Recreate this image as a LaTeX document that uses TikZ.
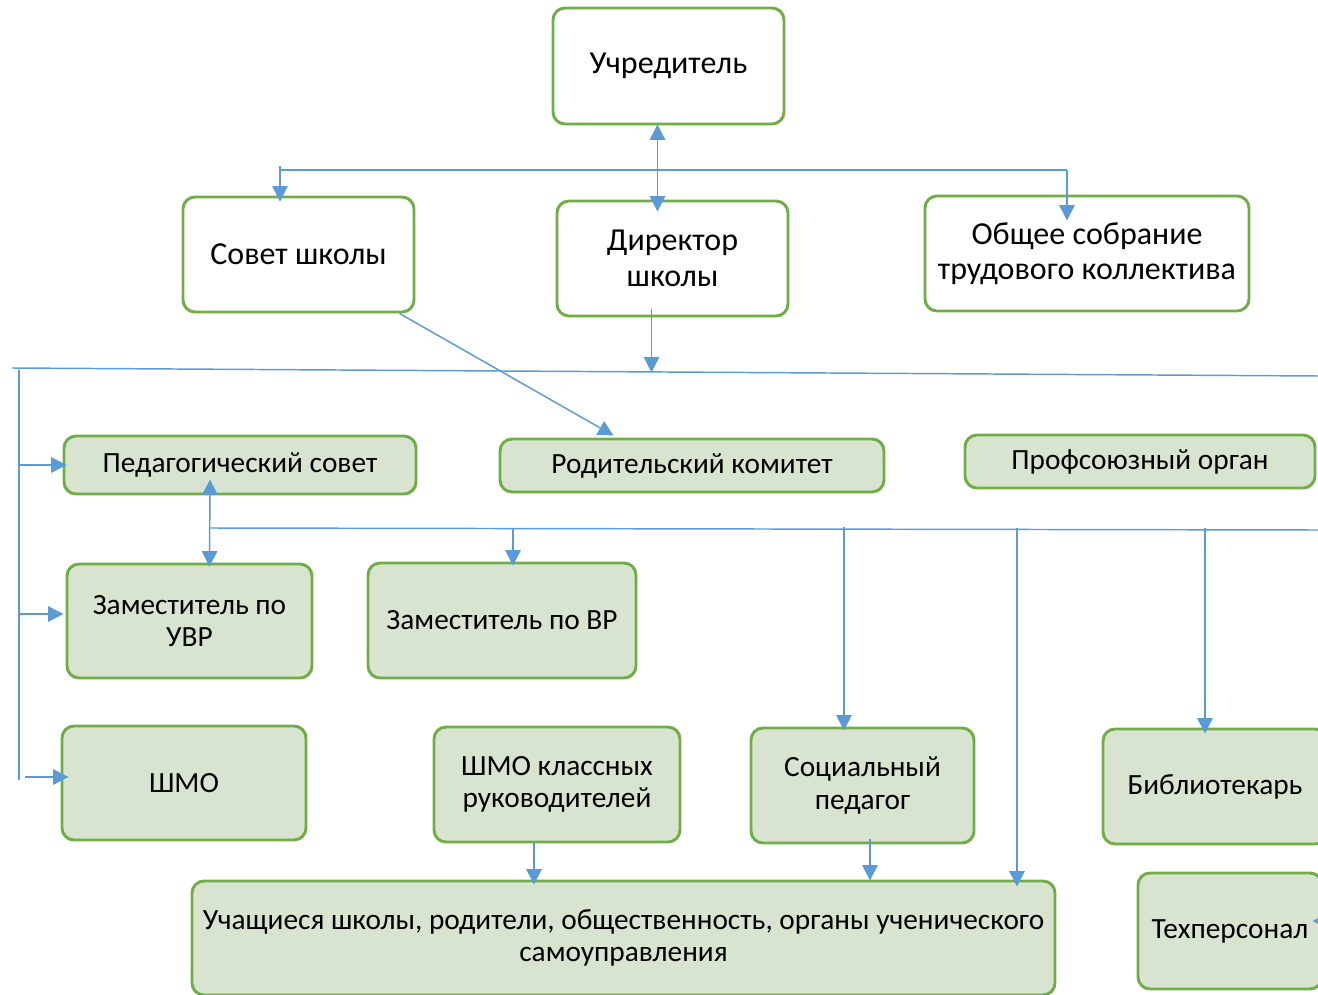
\documentclass[tikz,border=0pt]{standalone}
\usepackage{fontspec}
\setmainfont{Carlito}
\usetikzlibrary{arrows.meta,calc}
\definecolor{lnblue}{RGB}{91,155,213}
\definecolor{bgreen}{RGB}{112,173,71}
\definecolor{fgreen}{RGB}{217,228,208}
\newcommand\bx[7]{%
  \pgfmathsetmacro\bw{(#5-#3)*0.75}%
  \pgfmathsetmacro\bh{(#6-#4)*0.75}%
  \node[#2, minimum width=\bw pt, minimum height=\bh pt] (#1) at ({(#3+#5)/2},{(#4+#6)/2}) {#7};}
\begin{document}
\begin{tikzpicture}[x=0.75pt,y=-0.75pt,
 wbox/.style={draw=bgreen, line width=2.2pt, rounded corners=9pt, fill=white, inner sep=0pt, align=center, font=\fontsize{24}{26.5}\selectfont},
 gbox/.style={wbox, fill=fgreen, font=\fontsize{22}{24.5}\selectfont},
 conn/.style={draw=lnblue, line width=1.1pt},
 arr/.style={conn, -{Triangle[length=11.5pt,width=11.5pt]}},
 darr/.style={conn, {Triangle[length=11.5pt,width=11.5pt]}-{Triangle[length=11.5pt,width=11.5pt]}}]
\useasboundingbox (0,0) rectangle (1318,995);
\clip (0,0) rectangle (1318,995);

% boxes
\bx{uch}{wbox}{553}{8}{784}{124}{Учредитель}
\bx{sov}{wbox}{183}{197}{414}{312}{Совет школы}
\bx{dir}{wbox}{557}{201}{788}{316}{Директор\\школы}
\bx{obs}{wbox}{925}{196}{1249}{311}{Общее собрание\\трудового коллектива}

\bx{ped}{gbox}{64}{436}{416}{494}{Педагогический совет}
\bx{rod}{gbox}{500}{439}{884}{492}{Родительский комитет}
\bx{prof}{gbox}{965}{435}{1315}{488}{Профсоюзный орган}

\bx{zuvr}{gbox}{67}{564}{312}{678}{Заместитель по\\УВР}
\bx{zvr}{gbox}{368}{563}{636}{678}{Заместитель по ВР}

\bx{shmo}{gbox}{62}{726}{306}{840}{ШМО}
\bx{shmok}{gbox}{434}{727}{680}{842}{ШМО классных\\руководителей}
\bx{soc}{gbox}{751}{728}{974}{843}{Социальный\\педагог}
\bx{bib}{gbox}{1103}{729}{1327}{844}{Библиотекарь}
\bx{tech}{gbox}{1138}{873}{1322}{989}{Техперсонал}
\bx{stud}{gbox}{192}{881}{1055}{995}{Учащиеся школы, родители, общественность, органы ученического\\самоуправления}

% top connectors
\draw[darr] ($(uch.south)+(-11,-1)$) -- ($(dir.north)+(-15,12)$);
\coordinate (ta) at (280,166);
\coordinate (tb) at (1067,170);
\draw[conn] (ta) |- (tb);
\draw[arr] (ta) -- ($(ta |- sov.north)+(0,6)$);
\draw[arr] (tb) -- ($(tb |- obs.north)+(0,26)$);

\draw[arr] ($(sov.south east)+(-16,0)$) -- ($(rod.north west)+(115,-2)$);
\draw[arr] ($(dir.south)+(-21,-8)$) -- ++(0,63);

% main bus
\coordinate (m1) at (12,368);
\coordinate (m2) at (1318,376);
\draw[conn] (m1) -- (m2);
\coordinate (lv1) at (19,370);
\coordinate (lv2) at (19,780);
\draw[conn] (lv1) -- (lv2);
\draw[arr] (lv1 |- ped.west) -- ($(ped.west)+(4,0)$);
\coordinate (pz) at ($(zuvr.west)+(-2,-7)$);
\draw[arr] (lv1 |- pz) -- (pz);
\coordinate (ps) at ($(shmo.west)+(8,-6)$);
\coordinate (psl) at (25,0);
\draw[arr] (psl |- ps) -- (ps);

% sub bus
\coordinate (s1) at (210,528);
\coordinate (s2) at (1318,530);
\draw[conn] (s1) -- (s2);
\draw[darr] ($(ped.south)+(-30,-16)$) -- ($(zuvr.north)+(20,4)$);
\draw[arr] (513,528) -- ($(zvr.north)+(11,4)$);
\draw[arr] (844,527) -- ($(soc.north)+(-18.5,4)$);
\draw[arr] (1017,528) -- ($(stud.north)+(393.5,7)$);
\draw[arr] (1205,528) -- ($(bib.north)+(-10,6)$);

% bottom
\draw[arr] ($(shmok.south)+(-23,0)$) -- ($(stud.north)+(-89.5,5)$);
\draw[arr] ($(soc.south)+(7.5,-5)$) -- ($(stud.north)+(246.5,1)$);
\coordinate (te) at (1335,921);
\draw[arr] (te) -- ($(tech.east)+(-11,-10)$);
\end{tikzpicture}
\end{document}
